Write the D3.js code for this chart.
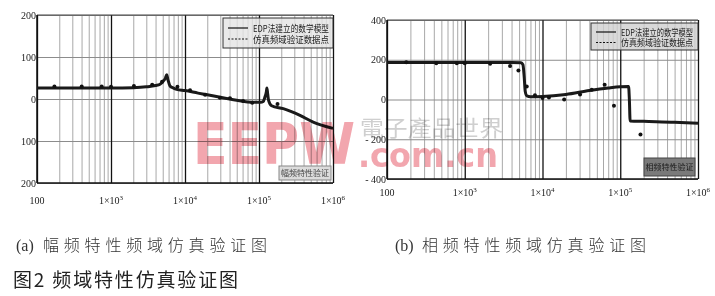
<!DOCTYPE html>
<html lang="zh">
<head>
<meta charset="UTF-8" />
<title>频域特性仿真验证图</title>
<style>
  body { margin: 0; background: #fff; }
  svg { display: block; }
</style>
<script src="https://cdn.jsdelivr.net/npm/d3@7"></script>
</head>
<body>
<script>
// ---- data ----
const decades = [1e2, 1e3, 1e4, 1e5, 1e6];
const xTickBase = ["100", "1×10", "1×10", "1×10", "1×10"];
const xTickExp = ["", "3", "4", "5", "6"];

// (a) magnitude
const magTicks = [200, 100, 0, -100, -200];
const magTickLabels = ["200", "100", "0", "100", "200"];
const magModelFreq = [100, 300, 1000, 2000, 3000, 4000, 4600, 5100, 5450, 5660, 5900, 6270, 7000, 7700, 1e4, 1.5e4, 2e4, 3e4, 5e4, 7e4, 9e4, 1.05e5, 1.14e5, 1.2e5, 1.26e5, 1.28e5, 1.31e5, 1.35e5, 1.48e5, 2.13e5, 3.58e5, 5.4e5, 1e6];
const magModel     = [26, 26, 26, 27, 29, 32, 35, 43, 50, 58, 45, 31, 26, 23, 20, 14, 10, 4, -3, -7, -8, -8, -6, 4, 18, 26, 12, -4, -16, -23, -39, -55, -70];
const magPtsFreq = [172, 402, 748, 1000, 2040, 3600, 4900, 7900, 1.17e4, 1.87e4, 2.97e4, 4.05e4, 6.1e4, 8.1e4, 1.78e5];
const magPts     = [30, 30, 30, 29, 31, 34, 41, 29, 21, 10, 3, 2, -5, -9, -12];

// (b) phase
const phaseTicks = [400, 200, 0, -200, -400];
const phaseTickLabels = ["400", "200", "0", "- 200", "- 400"];
const phaseModelFreq = [100, 1000, 4000, 5300, 5600, 5800, 6000, 6300, 7000, 1e4, 2e4, 4e4, 7e4, 1e5, 1.28e5, 1.31e5, 1.34e5, 2e5, 5e5, 1e6];
const phaseModel     = [186, 186, 186, 185, 175, 120, 40, 18, 14, 15, 25, 45, 58, 64, 65, 0, -108, -110, -114, -119];
const phasePtsFreq = [177, 430, 790, 1000, 2120, 3830, 4900, 6270, 8000, 1e4, 1.21e4, 1.9e4, 3.04e4, 4.3e4, 6.3e4, 8.3e4, 1.82e5];
const phasePts     = [188, 183, 183, 183, 180, 168, 146, 65, 22, 8, 10, 0, 25, 49, 74, -32, -176];

const legendModel = "EDP法建立的数学模型";
const legendPts = "仿真频域验证数据点";

const W = 715, H = 296;
const svg = d3.select("body").append("svg").attr("width", W).attr("height", H);

const minor = [];
for (let d = 100; d < 1e6; d *= 10) for (let k = 2; k <= 9; k++) minor.push(d * k);

function panel(o) {
  const x = d3.scaleLog().domain([1e2, 1e6]).range([o.left, o.right]);
  const y = d3.scaleLinear().domain(o.yDomain).range([o.bottom, o.top]);
  const h = o.bottom - o.top;
  const g = svg.append("g");

  // minor vertical grid
  g.append("g").attr("transform", `translate(0,${o.bottom})`)
    .call(d3.axisBottom(x).tickValues(minor).tickSize(-h).tickFormat(""))
    .call(s => s.select(".domain").remove())
    .call(s => s.selectAll("line").attr("stroke", "#a8a8a8").attr("stroke-width", 1));
  // horizontal grid
  g.append("g").attr("transform", `translate(${o.left},0)`)
    .call(d3.axisLeft(y).tickValues(o.yTicks).tickSize(-(o.right - o.left)).tickFormat(""))
    .call(s => s.select(".domain").remove())
    .call(s => s.selectAll("line").attr("stroke", "#8c8c8c").attr("stroke-width", 1));
  // decade lines
  g.append("g").attr("transform", `translate(0,${o.bottom})`)
    .call(d3.axisBottom(x).tickValues(decades).tickSize(-h).tickFormat(""))
    .call(s => s.select(".domain").remove())
    .call(s => s.selectAll("line").attr("stroke", "#111").attr("stroke-width", 1.3));
  // frame
  g.append("line").attr("x1", o.left).attr("x2", o.right).attr("y1", o.top).attr("y2", o.top)
    .attr("stroke", "#444").attr("stroke-width", 1);
  g.append("line").attr("x1", o.left).attr("x2", o.right).attr("y1", o.bottom).attr("y2", o.bottom)
    .attr("stroke", "#111").attr("stroke-width", 1.5);
  g.append("line").attr("x1", o.left).attr("x2", o.left).attr("y1", o.top).attr("y2", o.bottom)
    .attr("stroke", "#111").attr("stroke-width", 1.5);

  // y labels
  g.selectAll(".yl").data(o.yTicks).join("text")
    .attr("x", o.left - 1).attr("y", d => y(d) + 3.5)
    .attr("text-anchor", "end")
    .attr("font-family", "Liberation Serif, serif").attr("font-size", 10).attr("fill", "#222")
    .text((d, i) => o.yLabels[i]);

  // x labels
  const xl = g.selectAll(".xl").data(decades).join("text")
    .attr("x", d => x(d)).attr("y", o.xLabelY)
    .attr("text-anchor", "middle")
    .attr("font-family", "Liberation Serif, serif").attr("font-size", 10).attr("fill", "#222");
  xl.append("tspan").text((d, i) => xTickBase[i]);
  xl.append("tspan").attr("dy", -4.5).attr("font-size", 7).text((d, i) => xTickExp[i]);

  // model curve
  const line = d3.line().x(d => x(d[0])).y(d => y(d[1])).curve(d3.curveMonotoneX);
  g.append("path").datum(o.modelFreq.map((f, i) => [f, o.model[i]]))
    .attr("d", line).attr("fill", "none").attr("stroke", "#1a1a1a").attr("stroke-width", 3)
    .attr("stroke-linejoin", "round");

  // data points
  g.selectAll(".pt").data(o.ptsFreq.map((f, i) => [f, o.pts[i]])).join("circle")
    .attr("cx", d => x(d[0])).attr("cy", d => y(d[1])).attr("r", 2).attr("fill", "#111");

  // legend
  const L = o.legend;
  g.append("rect").attr("x", L.x).attr("y", L.y).attr("width", L.w).attr("height", L.h)
    .attr("fill", L.fill).attr("fill-opacity", 0.8).attr("stroke", "#333").attr("stroke-width", 1);
  const rows = [[legendModel, null], [legendPts, "2,1.5"]];
  rows.forEach((r, i) => {
    const ry = L.y + L.row0 + i * L.rowGap;
    g.append("line").attr("x1", L.x + 5).attr("x2", L.x + 25).attr("y1", ry).attr("y2", ry)
      .attr("stroke", "#111").attr("stroke-width", 1.2).attr("stroke-dasharray", r[1]);
    g.append("text").attr("x", L.x + 30).attr("y", ry + 3.5)
      .attr("font-family", "Noto Sans CJK SC, sans-serif").attr("font-size", 9.5).attr("fill", "#222")
      .attr("textLength", L.textLen).attr("lengthAdjust", "spacingAndGlyphs")
      .text(r[0]);
  });

  // bottom tag box
  const B = o.tag;
  g.append("rect").attr("x", B.x).attr("y", B.y).attr("width", B.w).attr("height", B.h)
    .attr("fill", B.fill).attr("stroke", B.stroke).attr("stroke-width", 1);
  g.append("text").attr("x", B.x + B.w / 2).attr("y", B.y + B.h / 2 + 3)
    .attr("text-anchor", "middle")
    .attr("font-family", "Noto Sans CJK SC, sans-serif").attr("font-size", 8).attr("fill", B.color)
    .text(B.text);
}

panel({
  left: 37, right: 333, top: 15, bottom: 183, yDomain: [-200, 200],
  yTicks: magTicks, yLabels: magTickLabels, xLabelY: 204,
  modelFreq: magModelFreq, model: magModel, ptsFreq: magPtsFreq, pts: magPts,
  legend: { x: 223, y: 18, w: 110, h: 30, fill: "#e4e4e4", row0: 10, rowGap: 11, textLen: 76 },
  tag: { x: 279, y: 166, w: 52, h: 14, fill: "#dcdcdc", stroke: "#888", color: "#444", text: "幅频特性验证" }
});

panel({
  left: 387, right: 698, top: 20, bottom: 179, yDomain: [-400, 400],
  yTicks: phaseTicks, yLabels: phaseTickLabels, xLabelY: 196,
  modelFreq: phaseModelFreq, model: phaseModel, ptsFreq: phasePtsFreq, pts: phasePts,
  legend: { x: 591, y: 23, w: 107, h: 27, fill: "#cfcfcf", row0: 9, rowGap: 10.5, textLen: 72 },
  tag: { x: 644, y: 158, w: 51, h: 18, fill: "#7a7a7a", stroke: "#444", color: "#1a1a1a", text: "相频特性验证" }
});

// watermark
const wm = svg.append("g").style("mix-blend-mode", "multiply");
wm.append("text").attr("x", 193).attr("y", 164)
  .attr("font-family", "DejaVu Sans, sans-serif").attr("font-weight", "bold").attr("font-size", 57)
  .attr("textLength", 162).attr("lengthAdjust", "spacingAndGlyphs")
  .attr("fill", "#f2a6ae").text("EEPW");
wm.append("text").attr("x", 360).attr("y", 136)
  .attr("font-family", "Noto Sans CJK TC, sans-serif").attr("font-size", 22)
  .attr("textLength", 143).attr("lengthAdjust", "spacingAndGlyphs")
  .attr("fill", "#cfcfcf").text("電子產品世界");
wm.append("text").attr("x", 358).attr("y", 167)
  .attr("font-family", "DejaVu Sans, sans-serif").attr("font-weight", "bold").attr("font-size", 34)
  .attr("textLength", 140).attr("lengthAdjust", "spacingAndGlyphs")
  .attr("fill", "#f2a6ae").text(".com.cn");

// captions
const captions = [
  { x: 16, tag: "(a)", text: "幅频特性频域仿真验证图" },
  { x: 395, tag: "(b)", text: "相频特性频域仿真验证图" }
];
captions.forEach(c => {
  svg.append("text").attr("x", c.x).attr("y", 251)
    .attr("font-family", "Liberation Serif, serif").attr("font-size", 16).attr("fill", "#333")
    .text(c.tag);
  svg.append("text").attr("x", c.x + 27).attr("y", 251)
    .attr("font-family", "Noto Sans CJK SC, sans-serif").attr("font-size", 16).attr("font-weight", 300)
    .attr("fill", "#333")
    .attr("textLength", 224).attr("lengthAdjust", "spacing")
    .text(c.text);
});
svg.append("text").attr("x", 13).attr("y", 287)
  .attr("font-family", "Noto Sans CJK SC, sans-serif").attr("font-size", 19).attr("fill", "#222")
  .attr("textLength", 225).attr("lengthAdjust", "spacing")
  .text("图2 频域特性仿真验证图");
</script>
</body>
</html>
